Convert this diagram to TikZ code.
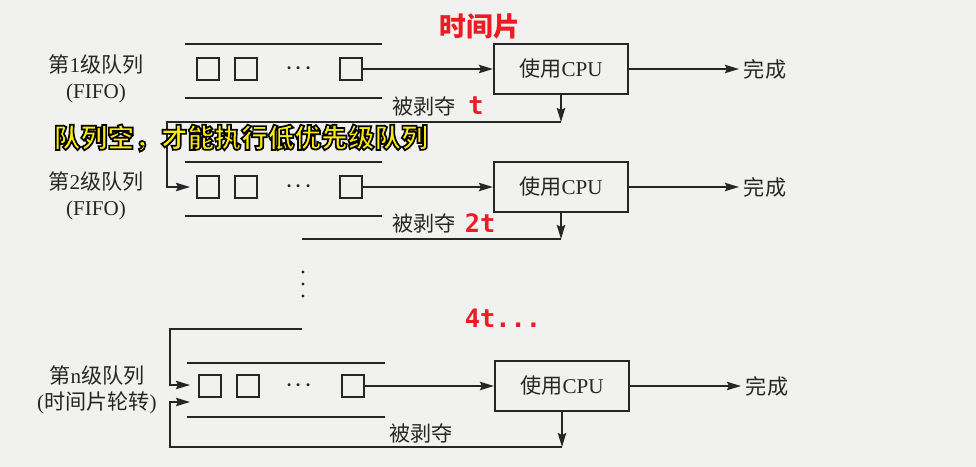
\documentclass[tikz,border=0pt]{standalone}
\usepackage{fontspec}
\setmainfont{Liberation Serif}
\newfontfamily\cjk{Noto Sans CJK SC}
\newfontfamily\mono{DejaVu Sans Mono}
\usetikzlibrary{positioning,arrows.meta}

\definecolor{ink}{RGB}{38,38,38}
\definecolor{mark}{RGB}{236,28,36}
\definecolor{hilite}{RGB}{255,236,0}
\definecolor{paper}{RGB}{241,241,239}

% text filled in the current colour, edged with a stroke colour
\newcommand\edged[3]{\special{pdf:code #1 RG 2 Tr #2 w}#3\special{pdf:code 0 Tr}}

\begin{document}
\begin{tikzpicture}[x=0.025cm, y=-0.025cm,
    % Node styles
    cpu/.style={rectangle, draw=ink, line width=1.5pt, minimum width=3.35cm, minimum height=1.25cm, font=\fontsize{15}{18}\selectfont, text=ink},
    job/.style={rectangle, draw=ink, line width=1.4pt, minimum size=0.55cm, inner sep=0pt},
    caption/.style={align=center, font=\fontsize{15}{18.5}\selectfont, text=ink},
    plain/.style={font=\fontsize{15}{18}\selectfont, text=ink},
    gap/.style={font=\fontsize{20}{20}\selectfont, text=ink},
    % Line styles
    rail/.style={draw=ink, line width=1.1pt},
    flow/.style={draw=ink, line width=1.1pt, -{Stealth[length=10pt, width=6pt, inset=1.5pt]}},
    % Annotation styles
    redmark/.style={font=\fontsize{18}{20}\selectfont\mono\bfseries, text=mark},
    yellowmark/.style={font=\fontsize{19}{22}\selectfont\cjk\bfseries, text=hilite}
]

\fill[paper] (0,0) rectangle (976,467);
\useasboundingbox (0,0) rectangle (976,467);

% Queue 1
\draw[rail] (185,44) -- (382,44);
\draw[rail] (185,98) -- (382,98);
\node[caption] (lab1) at (96,79) {{\cjk 第}1{\cjk 级队列}\\(FIFO)};
\node[job] (q1a) at (208,69) {};
\node[job] (q1b) at (246,69) {};
\node[gap] (q1d) at (299,69) {$\cdot\!\cdot\!\cdot$};
\node[job] (q1c) at (351,69) {};
\node[cpu] (cpu1) at (561,69) {{\cjk 使用}CPU};
\node[plain] (done1) at (765,69) {\cjk 完成};

% Queue 2
\draw[rail] (185,162) -- (382,162);
\draw[rail] (185,216) -- (382,216);
\node[caption] (lab2) at (96,196) {{\cjk 第}2{\cjk 级队列}\\(FIFO)};
\node[job] (q2a) at (208,187) {};
\node[job] (q2b) at (246,187) {};
\node[gap] (q2d) at (299,187) {$\cdot\!\cdot\!\cdot$};
\node[job] (q2c) at (351,187) {};
\node[cpu] (cpu2) at (561,187) {{\cjk 使用}CPU};
\node[plain] (done2) at (765,187) {\cjk 完成};

% Queue n
\draw[rail] (187,363) -- (385,363);
\draw[rail] (187,417) -- (385,417);
\node[caption] (labn) at (97,390) {{\cjk 第}n{\cjk 级队列}\\({\cjk 时间片轮转})};
\node[job] (qna) at (210,386) {};
\node[job] (qnb) at (248,386) {};
\node[gap] (qnd) at (299,386) {$\cdot\!\cdot\!\cdot$};
\node[job] (qnc) at (353,386) {};
\node[cpu] (cpun) at (562,386) {{\cjk 使用}CPU};
\node[plain] (donen) at (767,386) {\cjk 完成};

% Turning points of the preempt loops
\coordinate (cut1) at (561,122);
\coordinate (turn1) at (167,122);
\coordinate (in2) at (190,187);
\coordinate (cut2) at (561,239);
\coordinate (turn2) at (302,239);
\coordinate (feedn) at (302,329);
\coordinate (turnn) at (170,329);
\coordinate (inn) at (190,385);
\coordinate (cutn) at (562,447);
\coordinate (loopn) at (170,447);
\coordinate (backn) at (190,402);

% Levels left out
\foreach \y in {272,284,296}
    \fill[ink] (303,\y) circle (1.6);

% Connections
\draw[flow] (q1c) -- (cpu1);
\draw[flow] (cpu1) -- (done1);
\draw[flow] (cpu1) -- (cut1);
\draw[flow] (cut1) -- (turn1) |- (in2);
\draw[flow] (q2c) -- (cpu2);
\draw[flow] (cpu2) -- (done2);
\draw[flow] (cpu2) -- (cut2);
\draw[rail] (cut2) -- (turn2);
\draw[flow] (feedn) -- (turnn) |- (inn);
\draw[flow] (qnc) -- (cpun);
\draw[flow] (cpun) -- (donen);
\draw[flow] (cpun) -- (cutn);
\draw[flow] (cutn) -- (loopn) |- (backn);

% Preempt labels
\node[plain] (pre1) at (424,106) {\cjk 被剥夺};
\node[plain] (pre2) at (424,223) {\cjk 被剥夺};
\node[plain] (pren) at (421,433) {\cjk 被剥夺};

% Annotations
\node[redmark, font=\fontsize{19}{22}\selectfont\cjk\bfseries] (slice) at (480,26) {时间片};
\node[redmark] (t1) at (476,106) {t};
\node[redmark] (t2) at (480,223) {2t};
\node[redmark] (t4) at (503,318) {4t...};
\node[yellowmark] (hint) at (241,138) {\edged{0 0 0}{1.2}{队列空，才能执行低优先级队列}};

\end{tikzpicture}
\end{document}
